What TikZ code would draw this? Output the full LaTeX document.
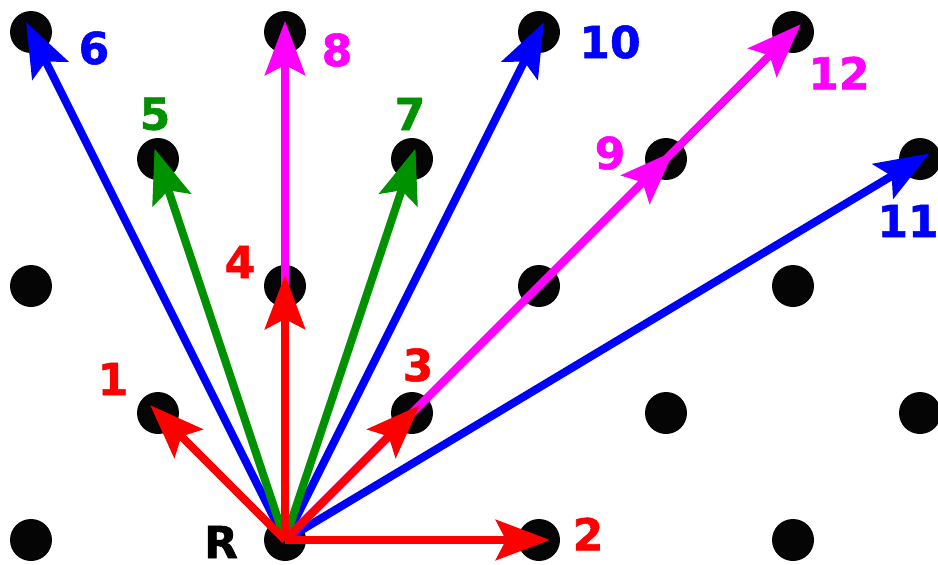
\documentclass[tikz,border=0pt]{standalone}
\usepackage{fontspec}
\setmainfont{DejaVu Sans}[BoldFeatures={FakeBold=1.2}]
\usetikzlibrary{arrows.meta}
\definecolor{dotblack}{RGB}{5,5,5}
\definecolor{vblue}{RGB}{0,0,255}
\definecolor{vgreen}{RGB}{0,145,0}
\definecolor{vmagenta}{RGB}{255,0,255}
\definecolor{vred}{RGB}{255,0,0}
\begin{document}
\begin{tikzpicture}[x=1pt,y=-1pt,
  dot/.style={circle,fill=dotblack,minimum size=42pt,inner sep=0pt},
  vec/.style={line width=8pt,-{Stealth[length=54pt,width=40pt,inset=10pt]},shorten >=-11pt},
  lbl/.style={font=\fontsize{44}{50}\selectfont\bfseries,inner sep=0pt}]
\useasboundingbox (0,0) rectangle (938,565);
% lattice points: column k, row j (row 0 at the top)
\foreach \j in {0,...,4}{
  \foreach \k in {0,...,7}{
    \pgfmathtruncatemacro\parity{mod(\k+\j,2)}
    \ifnum\parity=0
      \node[dot] (d\k\j) at ({31+127*\k},{32+127*\j}) {};
    \fi
  }}
\node[lbl] (lR) at (221,542) {R};
% longer vectors first, shorter ones on top
\draw[vec,vblue] (d24.center) -- (d00.center);
\draw[vec,vblue] (d24.center) -- (d40.center);
\draw[vec,vblue] (d24.center) -- (d71.center);
\draw[vec,vgreen] (d24.center) -- (d11.center);
\draw[vec,vgreen] (d24.center) -- (d31.center);
\draw[vec,vmagenta] (d24.center) -- (d20.center);
\draw[vec,vmagenta] (d24.center) -- (d60.center);
\draw[vec,vmagenta] (d24.center) -- (d51.center);
\draw[vec,vred] (d24.center) -- (d13.center);
\draw[vec,vred] (d24.center) -- (d44.center);
\draw[vec,vred] (d24.center) -- (d33.center);
\draw[vec,vred] (d24.center) -- (d22.center);
% labels
\node[lbl,vred] (l1) at (113,379) {1};
\node[lbl,vred] (l2) at (588,534) {2};
\node[lbl,vred] (l3) at (418,365) {3};
\node[lbl,vred] (l4) at (240,262) {4};
\node[lbl,vgreen] (l5) at (155,114) {5};
\node[lbl,vblue] (l6) at (94,48) {6};
\node[lbl,vgreen] (l7) at (410,114) {7};
\node[lbl,vmagenta] (l8) at (337,50) {8};
\node[lbl,vmagenta] (l9) at (610,153) {9};
\node[lbl,vblue] (l10) at (610,42) {10};
\node[lbl,vblue] (l11) at (908,221) {11};
\node[lbl,vmagenta] (l12) at (839,73) {12};
\end{tikzpicture}
\end{document}
